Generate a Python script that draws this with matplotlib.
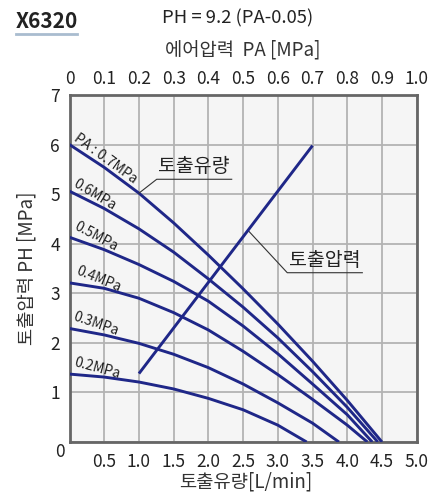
import matplotlib
matplotlib.use("Agg")
import matplotlib.pyplot as plt
import numpy as np

plt.rcParams['font.family'] = ['Noto Sans CJK KR', 'DejaVu Sans']

# ========== 데이터 ==========
# 토출유량 [L/min] 대 토출압력 PH [MPa], 에어압력별 곡선
pa_labels = ['PA : 0.7MPa', '0.6MPa', '0.5MPa', '0.4MPa', '0.3MPa', '0.2MPa']

flow_07 = [0, 0.5, 1.0, 1.5, 2.0, 2.5, 3.0, 3.5, 4.0, 4.5]
ph_07 = [6.0, 5.54, 5.02, 4.42, 3.77, 3.09, 2.38, 1.63, 0.84, 0]

flow_06 = [0, 0.5, 1.0, 1.5, 2.0, 2.5, 3.0, 3.5, 4.0, 4.44]
ph_06 = [5.06, 4.71, 4.30, 3.83, 3.29, 2.72, 2.10, 1.42, 0.70, 0]

flow_05 = [0, 0.5, 1.0, 1.5, 2.0, 2.5, 3.0, 3.5, 4.0, 4.36]
ph_05 = [4.13, 3.88, 3.58, 3.24, 2.84, 2.34, 1.78, 1.17, 0.55, 0]

flow_04 = [0, 0.5, 1.0, 1.5, 2.0, 2.5, 3.0, 3.5, 4.0, 4.29]
ph_04 = [3.21, 3.10, 2.90, 2.61, 2.26, 1.83, 1.36, 0.86, 0.34, 0]

flow_03 = [0, 0.5, 1.0, 1.5, 2.0, 2.5, 3.0, 3.5, 3.88]
ph_03 = [2.29, 2.16, 1.99, 1.77, 1.50, 1.17, 0.79, 0.38, 0]

flow_02 = [0, 0.5, 1.0, 1.5, 2.0, 2.5, 3.0, 3.415]
ph_02 = [1.37, 1.31, 1.21, 1.07, 0.88, 0.65, 0.34, 0]

# 토출압력 직선 (상단 축: 에어압력 PA), PH = 9.2 (PA-0.05)
line_pa = [0.2, 0.7]
line_ph = [1.38, 5.98]

x_ticks = [0.5, 1.0, 1.5, 2.0, 2.5, 3.0, 3.5, 4.0, 4.5, 5.0]
y_ticks = [0, 1, 2, 3, 4, 5, 6, 7]
pa_ticks = [0, 0.1, 0.2, 0.3, 0.4, 0.5, 0.6, 0.7, 0.8, 0.9, 1.0]

curves = [(flow_07, ph_07), (flow_06, ph_06), (flow_05, ph_05),
          (flow_04, ph_04), (flow_03, ph_03), (flow_02, ph_02)]

# ========== 그림 ==========
W, H = 444, 493
fig = plt.figure(figsize=(W / 100, H / 100), dpi=100)
ax = fig.add_axes([69.5 / W, 1 - 442 / H, 347.2 / W, 347 / H])

navy = '#1f2788'
ax.set_facecolor('#f5f5f5')
for fx, fy in curves:
    ax.plot(fx, fy, color=navy, lw=2.1, solid_capstyle='butt',
            solid_joinstyle='round', zorder=3)

ax.set_xlim(0, 5)
ax.set_ylim(0, 7)
ax.set_xticks(x_ticks)
ax.set_xticklabels([f'{v:.1f}' for v in x_ticks])
ax.set_yticks(y_ticks)
ax.set_yticklabels([''] + [str(v) for v in y_ticks[1:]])
ax.tick_params(length=0, labelsize=12.5, colors='#222222', pad=7)
ax.tick_params(axis='x', pad=8)
ax.grid(True, color='#b3b3b3', lw=1.3)
ax.set_axisbelow(True)
for s in ax.spines.values():
    s.set_color('#666666')
    s.set_linewidth(2)

# 좌하단 0 라벨 (조금 아래)
ax.annotate('0', xy=(0, 0), xytext=(-7, -7), textcoords='offset points',
            ha='center', va='center', fontsize=12.5, color='#222222')

# 상단 축 (에어압력)
ax2 = ax.twiny()
ax2.set_xlim(0, 1)
ax2.set_xticks(pa_ticks)
ax2.set_xticklabels(['0'] + [f'{v:.1f}' for v in pa_ticks[1:]])
ax2.tick_params(length=0, labelsize=12.5, colors='#222222', pad=5)
for s in ax2.spines.values():
    s.set_visible(False)
ax2.plot(line_pa, line_ph, color=navy, lw=2.1, solid_capstyle='butt', zorder=3)

# 곡선 라벨
label_pos = [(0.03, 6.05, -36), (0.02, 5.12, -31), (0.03, 4.24, -28),
             (0.07, 3.33, -22), (0.03, 2.41, -19), (0.04, 1.48, -15)]
for txt, (lx, ly, rot) in zip(pa_labels, label_pos):
    ax.text(lx, ly, txt, fontsize=10, style='italic', color='#222222',
            rotation=rot, rotation_mode='anchor', ha='left', va='bottom', zorder=4)

# 지시선 + 주석
lead = '#333333'
ax.plot([1.0, 1.256, 2.336], [5.02, 5.30, 5.30], color=lead, lw=0.8, zorder=4)
ax.text(1.79, 5.34, '토출유량', fontsize=14, color='#222222', ha='center', va='bottom')
ax.plot([2.57, 3.136, 4.217], [4.27, 3.415, 3.415], color=lead, lw=0.8, zorder=4)
ax.text(3.68, 3.45, '토출압력', fontsize=14, color='#222222', ha='center', va='bottom')

ax.set_ylabel('토출압력 PH [MPa]', fontsize=13.5, color='#333333', labelpad=9)

# 제목 등
fig.text(16 / W, 1 - 28 / H, 'X6320', fontsize=15, fontweight='bold', color='#222222')
fig.add_artist(plt.Line2D([16 / W, 77 / W], [1 - 34 / H, 1 - 34 / H], color='#a9bccf', lw=2))
fig.text(238 / W, 1 - 18 / H, 'PH = 9.2 (PA-0.05)', fontsize=13.3, color='#222222',
         ha='center', va='center')
fig.text(243 / W, 1 - 50 / H, '에어압력  PA [MPa]', fontsize=13.5, color='#333333',
         ha='center', va='center')
fig.text(246 / W, 1 - 482 / H, '토출유량[L/min]', fontsize=13.5, color='#333333',
         ha='center', va='center')

fig.savefig('out.png', dpi=100)
